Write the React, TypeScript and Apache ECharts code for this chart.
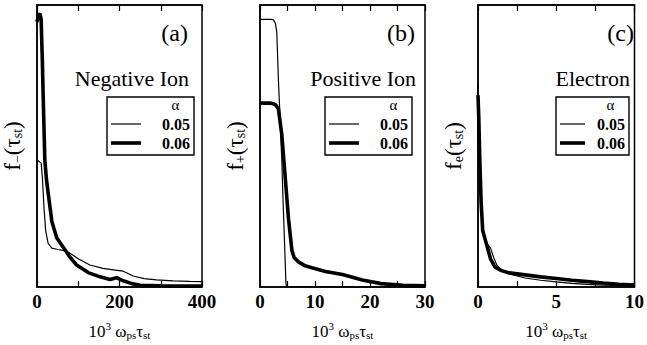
import React, { useEffect, useRef } from "react";
import * as echarts from "echarts";

// ---- Data ----
const legendNames = ["0.05", "0.06"];

// (a) Negative Ion, x range 0..400
const negX05 = [0, 5, 10, 13, 17, 21, 27, 36, 50, 64, 80, 100, 128, 160, 190, 209, 222, 233, 260, 290, 330, 370, 400];
const negY05 = [0.45, 0.445, 0.44, 0.39, 0.28, 0.2, 0.155, 0.138, 0.133, 0.13, 0.12, 0.1, 0.078, 0.066, 0.06, 0.056, 0.047, 0.039, 0.03, 0.025, 0.022, 0.02, 0.019];
const negX06 = [0, 3, 7, 10, 13, 15, 19, 23, 27, 36, 48, 64, 80, 96, 124, 153, 177, 193, 209, 230, 250, 300, 350, 400];
const negY06 = [0.94, 0.96, 0.97, 0.95, 0.8, 0.676, 0.45, 0.38, 0.334, 0.232, 0.174, 0.14, 0.106, 0.078, 0.051, 0.036, 0.027, 0.033, 0.022, 0.012, 0.006, 0.004, 0.003, 0.003];

// (b) Positive Ion, x range 0..30
const posX05 = [0, 1, 2, 2.45, 2.8, 3.05, 3.35, 3.65, 3.97, 4.2, 4.45, 4.7, 4.8, 10, 20, 30];
const posY05 = [0.949, 0.949, 0.949, 0.947, 0.935, 0.903, 0.733, 0.6, 0.447, 0.3, 0.164, 0.02, 0, 0, 0, 0];
const posX06 = [0, 1, 2, 2.45, 2.9, 3.35, 3.97, 4.57, 5.18, 5.8, 6.2, 7.0, 8.2, 9.45, 11.9, 15, 18.6, 22, 26, 30];
const posY06 = [0.652, 0.652, 0.652, 0.65, 0.645, 0.631, 0.539, 0.392, 0.242, 0.13, 0.105, 0.089, 0.075, 0.068, 0.055, 0.044, 0.025, 0.012, 0.006, 0.004];

// (c) Electron, x range 0..10
const eleX05 = [0, 0.05, 0.1, 0.2, 0.3, 0.5, 0.8, 1.0, 1.2, 1.5, 2, 3, 4, 5, 6, 7, 8, 10];
const eleY05 = [0.72, 0.62, 0.5, 0.3, 0.2, 0.16, 0.138, 0.105, 0.078, 0.06, 0.046, 0.032, 0.024, 0.018, 0.013, 0.009, 0.007, 0.004];
const eleX06 = [0, 0.05, 0.12, 0.2, 0.3, 0.5, 0.8, 1.1, 1.5, 2, 3, 4, 5, 6, 7, 8, 9, 10];
const eleY06 = [0.68, 0.6, 0.44, 0.3, 0.2, 0.16, 0.1, 0.07, 0.058, 0.05, 0.043, 0.036, 0.03, 0.024, 0.019, 0.014, 0.01, 0.007];

const xMaxes = [400, 30, 10];
const xTickSteps = [100, 5, 2.5];
const xLabelSteps = [200, 10, 5];
const panelLetters = ["(a)", "(b)", "(c)"];
const panelTitles = ["Negative Ion", "Positive Ion", "Electron"];
const ySubs = ["\u2212", "+", "e"];
const legendTitle = "\u03b1";

const FONT = "Liberation Serif";

const zip = (xs: number[], ys: number[]) => xs.map((x, i) => [x, ys[i]]);

const seriesData = [
  [zip(negX05, negY05), zip(negX06, negY06)],
  [zip(posX05, posY05), zip(posX06, posY06)],
  [zip(eleX05, eleY05), zip(eleX06, eleY06)],
];

// layout
const gridLefts = [37, 260, 478];
const gridWidth = 165;
const gridTop = 5;
const gridBottom = 47;
const legBoxes = [
  [107, 97, 87, 58],
  [325, 97, 87, 58],
  [556, 97, 73, 58],
];
const legLineW = [30, 30, 25];
const letterRights = [188, 415, 634];
const titleRights = [189, 416, 630];
const lineWidths = [1.2, 3.6];

export default function App() {
  const ref = useRef<HTMLDivElement>(null);
  useEffect(() => {
    if (!ref.current) return;
    const chart = echarts.init(ref.current, null, { renderer: "svg" });
    const axisName = "{n|10}{sup|3}{n| \u03c9}{sub|ps}{n|\u03c4}{sub|st}";
    const rich = {
      n: { fontFamily: FONT, fontSize: 17, color: "#000", verticalAlign: "bottom", lineHeight: 20 },
      sup: { fontFamily: FONT, fontSize: 11, color: "#000", verticalAlign: "top", lineHeight: 20 },
      sub: { fontFamily: FONT, fontSize: 11, color: "#000", verticalAlign: "bottom", lineHeight: 15 },
    };
    const yRich = {
      n: { fontFamily: FONT, fontSize: 23, color: "#000", verticalAlign: "bottom", lineHeight: 24 },
      sub: { fontFamily: FONT, fontSize: 14, color: "#000", verticalAlign: "bottom", lineHeight: 18 },
    };

    const grid = gridLefts.map((l) => ({
      left: l,
      width: gridWidth,
      top: gridTop,
      bottom: gridBottom,
      show: true,
      borderColor: "#000",
      borderWidth: 1.5,
      backgroundColor: "transparent",
    }));

    const xAxis: any[] = [];
    const yAxis: any[] = [];
    const series: any[] = [];
    for (let i = 0; i < 3; i++) {
      const step = xLabelSteps[i];
      xAxis.push({
        type: "value",
        gridIndex: i,
        min: 0,
        max: xMaxes[i],
        interval: xTickSteps[i],
        position: "bottom",
        axisLine: { show: true, onZero: false, lineStyle: { color: "#000", width: 1.5 } },
        axisTick: { show: true, inside: true, length: 6, lineStyle: { color: "#000", width: 1.2 } },
        splitLine: { show: false },
        axisLabel: {
          show: true,
          margin: 5,
          fontFamily: FONT,
          fontSize: 19,
          fontWeight: "bold",
          color: "#000",
          showMinLabel: true,
          showMaxLabel: true,
          hideOverlap: false,
          formatter: (v: number) => (Math.abs(v / step - Math.round(v / step)) < 1e-6 ? String(v) : ""),
        },
        name: axisName,
        nameLocation: "middle",
        nameGap: 33,
        nameTextStyle: { rich },
      });
      xAxis.push({
        type: "value",
        gridIndex: i,
        min: 0,
        max: xMaxes[i],
        interval: xTickSteps[i],
        position: "top",
        axisLine: { show: true, onZero: false, lineStyle: { color: "#000", width: 1.5 } },
        axisTick: { show: true, inside: true, length: 6, lineStyle: { color: "#000", width: 1.2 } },
        splitLine: { show: false },
        axisLabel: { show: false },
      });
      yAxis.push({
        type: "value",
        gridIndex: i,
        min: 0,
        max: 1,
        axisLine: { show: true, onZero: false, lineStyle: { color: "#000", width: 1.5 } },
        axisTick: { show: false },
        axisLabel: { show: false },
        splitLine: { show: false },
        name: `{n|f}{sub|${ySubs[i]}}{n|(\u03c4}{sub|st}{n|)}`,
        nameLocation: "middle",
        nameRotate: 90,
        nameGap: 13,
        nameTextStyle: { rich: yRich },
      });
      for (let s = 0; s < 2; s++) {
        series.push({
          type: "line",
          name: legendNames[s],
          xAxisIndex: i * 2,
          yAxisIndex: i,
          data: seriesData[i][s],
          symbol: "none",
          smooth: false,
          lineStyle: { color: "#000", width: lineWidths[s] },
          itemStyle: { color: "#000" },
          z: 3 - s,
        });
      }
    }

    const graphic: any[] = [];
    for (let i = 0; i < 3; i++) {
      const [bx, by, bw, bh] = legBoxes[i];
      graphic.push({
        type: "text",
        x: letterRights[i],
        y: 33,
        style: { text: panelLetters[i], fontFamily: FONT, fontSize: 24, fill: "#000", align: "right", verticalAlign: "middle" },
      });
      graphic.push({
        type: "text",
        x: titleRights[i],
        y: 78,
        style: { text: panelTitles[i], fontFamily: FONT, fontSize: 22, fill: "#000", align: "right", verticalAlign: "middle" },
      });
      graphic.push({
        type: "rect",
        shape: { x: bx, y: by, width: bw, height: bh },
        style: { fill: "#fff", stroke: "#000", lineWidth: 1.4 },
        z: 10,
      });
      const lx0 = bx + 4;
      const lx1 = lx0 + legLineW[i];
      const textRight = bx + bw - 4;
      const textW = 29;
      graphic.push({
        type: "text",
        x: textRight - textW / 2,
        y: by + 8,
        z: 11,
        style: { text: legendTitle, fontFamily: FONT, fontSize: 15, lineHeight: 15, fill: "#000", align: "center", verticalAlign: "middle" },
      });
      for (let s = 0; s < 2; s++) {
        const yy = by + 27 + s * 19;
        graphic.push({
          type: "line",
          shape: { x1: lx0, y1: yy, x2: lx1, y2: yy },
          style: { stroke: "#000", lineWidth: lineWidths[s] },
          z: 11,
        });
        graphic.push({
          type: "text",
          x: textRight,
          y: yy,
          z: 11,
          style: { text: legendNames[s], fontFamily: FONT, fontSize: 16, lineHeight: 16, fontWeight: "bold", fill: "#000", align: "right", verticalAlign: "middle" },
        });
      }
    }

    chart.setOption({
      animation: false,
      backgroundColor: "#fff",
      grid,
      xAxis,
      yAxis,
      series,
      graphic,
    });
    return () => chart.dispose();
  }, []);
  return <div ref={ref} style={{ position: "absolute", left: 0, top: 0, width: 647, height: 345 }} />;
}
